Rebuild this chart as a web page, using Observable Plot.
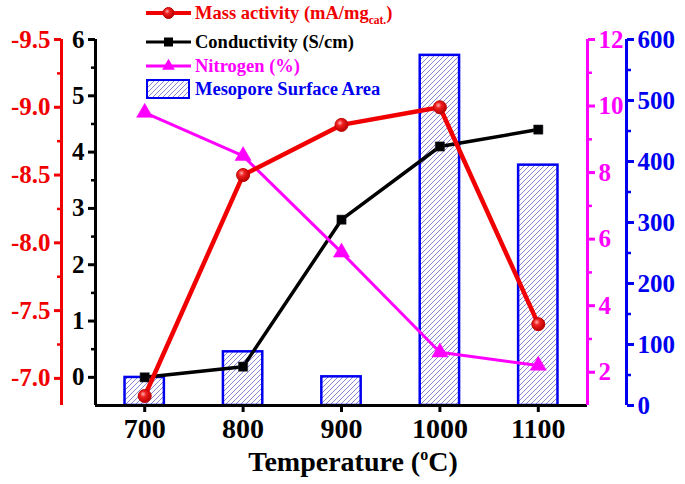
<!DOCTYPE html>
<html><head><meta charset="utf-8">
<script src="https://cdn.jsdelivr.net/npm/d3@7"></script>
<script src="https://cdn.jsdelivr.net/npm/@observablehq/plot@0.6"></script>
<style>
body{margin:0;background:#fff;}
#chart{position:relative;width:685px;height:484px;overflow:hidden;background:#fff;}
#chart svg{position:absolute;left:0;top:0;}
</style></head><body><div id="chart"></div>
<script>
// ---- data ----
const temps = [700, 800, 900, 1000, 1100];
const massActivity = [-6.87, -8.5, -8.87, -9.0, -7.4];
const conductivity = [0.0, 0.19, 2.8, 4.1, 4.4];
const nitrogen = [9.8, 8.5, 5.6, 2.6, 2.2];
const surfaceArea = [46, 88, 47, 574, 394];

const xTicks = [700, 800, 900, 1000, 1100];
const massTicks = [-9.5, -9.0, -8.5, -8.0, -7.5, -7.0];
const condTicks = [0, 1, 2, 3, 4, 5, 6];
const nitroTicks = [2, 4, 6, 8, 10, 12];
const areaTicks = [0, 100, 200, 300, 400, 500, 600];

const xDomain = [650, 1150];
const massDomain = [-6.8, -9.5];
const condDomain = [-0.5, 6];
const nitroDomain = [1, 12];
const areaDomain = [0, 600];

const legendLabels = ["Mass activity (mA/mg", "Conductivity (S/cm)", "Nitrogen (%)", "Mesopore Surface Area"];
const xTitle = "Temperature (";

const RED = "#f00000", BLACK = "#000", MAG = "#ff00ff", BLUE = "#0000f0";

// ---- helpers ----
const rows = temps.map((t, i) => ({t, mass: massActivity[i], cond: conductivity[i], n: nitrogen[i], area: surfaceArea[i]}));
const mids = a => a.slice(1).map((v, i) => (v + a[i]) / 2);
const chart = document.getElementById("chart");

// defs: hatch & ball gradient
const defs = d3.select(chart).append("svg").attr("width", 0).attr("height", 0).append("defs");
const pat = defs.append("pattern").attr("id", "hatch").attr("patternUnits", "userSpaceOnUse")
  .attr("width", 5).attr("height", 5);
pat.append("rect").attr("width", 5).attr("height", 5).attr("fill", "#fff");
pat.append("path").attr("d", "M-1,1 L1,-1 M0,5 L5,0 M4,6 L6,4").attr("stroke", "#7a78d0").attr("stroke-width", 0.9);
const g = defs.append("radialGradient").attr("id", "ball").attr("cx", "38%").attr("cy", "35%").attr("r", "65%");
g.append("stop").attr("offset", "0%").attr("stop-color", "#ffb0b0");
g.append("stop").attr("offset", "35%").attr("stop-color", "#f02020");
g.append("stop").attr("offset", "100%").attr("stop-color", "#b80000");

const frame = {width: 685, height: 484, marginTop: 39, marginBottom: 79, marginLeft: 95, marginRight: 98};
const font = {fontFamily: "'Liberation Serif','Times New Roman',serif", background: "transparent", overflow: "visible"};
const tickFont = {fontSize: 25, fontWeight: "bold"};

function layer(yDomain, marks) {
  const svg = Plot.plot({
    ...frame,
    x: {domain: xDomain, axis: null},
    y: {domain: yDomain, axis: null},
    style: font,
    marks
  });
  chart.appendChild(svg);
}

function yAxis(ticks, anchor, color, fmt, dx = 0) {
  return [
    Plot.axisY(ticks, {anchor, dx, label: null, tickSize: 7, tickPadding: 4, strokeWidth: 3, color, tickFormat: fmt, ...tickFont}),
    Plot.axisY(mids(ticks), {anchor, dx, label: null, tickSize: 4, strokeWidth: 2.5, color, tickFormat: () => ""})
  ];
}

// Blue: mesopore surface area bars
layer(areaDomain, [
  Plot.rectY(rows, {x1: d => d.t - 20, x2: d => d.t + 20, y: "area", fill: "url(#hatch)", stroke: BLUE, strokeWidth: 2.5}),
  Plot.ruleX([xDomain[1]], {dx: 39, stroke: BLUE, strokeWidth: 3}),
  ...yAxis(areaTicks, "right", BLUE, d => `${d}`, 39)
]);

// Black: conductivity + x axis
layer(condDomain, [
  Plot.ruleY([condDomain[0]], {stroke: BLACK, strokeWidth: 3}),
  Plot.ruleX([xDomain[0]], {stroke: BLACK, strokeWidth: 3}),
  Plot.axisX(xTicks, {anchor: "bottom", label: null, tickSize: 7, tickPadding: 6, strokeWidth: 3, tickFormat: d => `${d}`, fontSize: 28, fontWeight: "bold", color: BLACK}),
  ...yAxis(condTicks, "left", BLACK, d => `${d}`),
  Plot.line(rows, {x: "t", y: "cond", stroke: BLACK, strokeWidth: 3.5}),
  Plot.dot(rows, {x: "t", y: "cond", symbol: "square", r: 5.2, fill: BLACK, stroke: "#223", strokeWidth: 0.5})
]);

// Magenta: nitrogen
layer(nitroDomain, [
  Plot.ruleX([xDomain[1]], {stroke: MAG, strokeWidth: 3}),
  ...yAxis(nitroTicks, "right", MAG, d => `${d}`),
  Plot.line(rows, {x: "t", y: "n", stroke: MAG, strokeWidth: 3}),
  Plot.dot(rows, {x: "t", y: "n", symbol: "triangle", r: 6, fill: MAG, stroke: MAG, strokeWidth: 0.5})
]);

// Red: mass activity
layer(massDomain, [
  Plot.ruleX([xDomain[0]], {dx: -34, stroke: RED, strokeWidth: 3}),
  ...yAxis(massTicks, "left", RED, d => d.toFixed(1), -34),
  Plot.line(rows, {x: "t", y: "mass", stroke: RED, strokeWidth: 4.5}),
  Plot.dot(rows, {x: "t", y: "mass", r: 6.5, fill: "url(#ball)", stroke: "#c00000", strokeWidth: 1})
]);

// ---- legend & x title ----
const ov = d3.select(chart).append("svg").attr("width", 685).attr("height", 484)
  .style("font-family", "'Liberation Serif','Times New Roman',serif").style("font-weight", "bold");
const lx1 = 146, lx2 = 191, tx = 195;
const items = [
  {y: 13, c: RED, sym: "ball"},
  {y: 42, c: BLACK, sym: "square"},
  {y: 66, c: MAG, sym: "triangle"},
  {y: 89, c: BLUE, sym: "rect"}
];
items.forEach((it, i) => {
  const cx = (lx1 + lx2) / 2;
  if (it.sym === "rect") {
    ov.append("rect").attr("x", lx1 + 1).attr("y", it.y - 9).attr("width", 42).attr("height", 18)
      .attr("fill", "url(#hatch)").attr("stroke", it.c).attr("stroke-width", 2);
  } else {
    ov.append("line").attr("x1", lx1).attr("x2", lx2).attr("y1", it.y).attr("y2", it.y)
      .attr("stroke", it.c).attr("stroke-width", it.sym === "ball" ? 4 : 3);
    if (it.sym === "ball") ov.append("circle").attr("cx", cx).attr("cy", it.y).attr("r", 5.5).attr("fill", "url(#ball)").attr("stroke", "#c00000");
    if (it.sym === "square") ov.append("rect").attr("x", cx - 4.5).attr("y", it.y - 4.5).attr("width", 9).attr("height", 9).attr("fill", BLACK);
    if (it.sym === "triangle") ov.append("path").attr("d", d3.symbol(d3.symbolTriangle, 70)()).attr("transform", `translate(${cx},${it.y})`).attr("fill", MAG);
  }
  const t = ov.append("text").attr("x", tx).attr("y", it.y).attr("dy", "0.34em").attr("fill", it.c).attr("font-size", 18.5).text(legendLabels[i]);
  if (i === 0) {
    t.append("tspan").attr("font-size", 11.5).attr("dy", 5).text("cat.");
    t.append("tspan").attr("dy", -5).text(")");
  }
});
const tt = ov.append("text").attr("x", 353).attr("y", 471).attr("text-anchor", "middle").attr("font-size", 28).attr("fill", BLACK).text(xTitle);
tt.append("tspan").attr("font-size", 16).attr("dy", -11).text("o");
tt.append("tspan").attr("dy", 11).text("C)");
</script></body></html>
